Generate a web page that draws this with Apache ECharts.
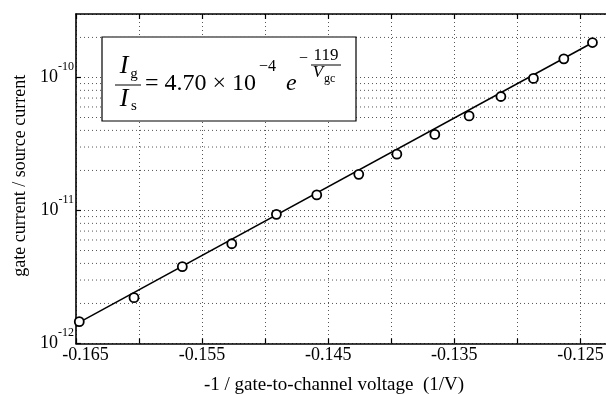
<!DOCTYPE html>
<html>
<head>
<meta charset="utf-8">
<script src="https://cdn.jsdelivr.net/npm/echarts@6/dist/echarts.min.js"></script>
<style>
html,body{margin:0;padding:0;background:#fff;}
#chart{width:606px;height:394px;}
</style>
</head>
<body>
<div id="chart"></div>
<script>
// ---- data ----
var xValues = [-0.16474, -0.16040, -0.15657, -0.15265, -0.14911, -0.14591, -0.14258, -0.13956, -0.13655, -0.13383, -0.13131, -0.12873, -0.12632, -0.12405];
var yValues = [1.46e-12, 2.21e-12, 3.78e-12, 5.62e-12, 9.35e-12, 1.31e-11, 1.87e-11, 2.65e-11, 3.73e-11, 5.14e-11, 7.19e-11, 9.84e-11, 1.38e-10, 1.83e-10];
var fitX = [-0.165, -0.1238];
var fitY = [1.40e-12, 1.88e-10];
var xTickLabels = ['-0.165', '-0.155', '-0.145', '-0.135', '-0.125'];
var yDecades = [1e-12, 1e-11, 1e-10];
var yMinorGrid = [2e-12,3e-12,4e-12,5e-12,6e-12,7e-12,8e-12,9e-12,
                  2e-11,3e-11,4e-11,5e-11,6e-11,7e-11,8e-11,9e-11,
                  2e-10];
var xRange = [-0.165, -0.1225];

var FONT = 'Liberation Serif';
var chart = echarts.init(document.getElementById('chart'), null, {renderer: 'canvas'});

var scatterData = xValues.map(function (x, i) { return [x, yValues[i]]; });
var fitData = fitX.map(function (x, i) { return [x, fitY[i]]; });

function xLabel(v) {
  var s = v.toFixed(3);
  if (xTickLabels.indexOf(s) < 0) return '';
  if (s === xTickLabels[0]) return '{first|' + s + '}';
  return s;
}
function yLabel(v) {
  var e = Math.log10(v);
  var r = Math.round(e);
  if (Math.abs(e - r) > 1e-6) return '';
  return '{b|10}{s|' + r + '}';
}

var gridColor = '#555';
var minorSeries = yMinorGrid.map(function (v) {
  return {
    type: 'line', data: [[xRange[0], v], [xRange[1], v]],
    showSymbol: false, symbol: 'none', silent: true, z: 1,
    lineStyle: {color: gridColor, type: [1, 3], width: 1}
  };
});

var option = {
  animation: false,
  backgroundColor: '#fff',
  grid: {left: 76, top: 14, width: 536, height: 329.5, containLabel: false, outerBoundsMode: 'none'},
  xAxis: [{
    type: 'value', min: xRange[0], max: xRange[1], interval: 0.005,
    position: 'bottom',
    axisLine: {show: true, onZero: false, lineStyle: {color: '#000', width: 1.6}},
    axisTick: {show: true, inside: true, length: 5, lineStyle: {color: '#000', width: 1.2}},
    splitLine: {show: true, lineStyle: {color: gridColor, type: [1, 3], width: 1}},
    axisLabel: {
      show: true, formatter: xLabel, margin: 3, showMaxLabel: false,
      color: '#000', fontFamily: FONT, fontSize: 18,
      rich: {first: {fontFamily: FONT, fontSize: 18, color: '#000', padding: [0, 0, 0, 19]}}
    },
    name: '-1 / gate-to-channel voltage  (1/V)',
    nameLocation: 'middle', nameGap: 32,
    nameTextStyle: {color: '#000', fontFamily: FONT, fontSize: 19, padding: [0, 20, 0, 0]}
  }, {
    type: 'value', min: xRange[0], max: xRange[1], interval: 0.005,
    position: 'top',
    axisLine: {show: true, onZero: false, lineStyle: {color: '#000', width: 1.6}},
    axisTick: {show: true, inside: true, length: 5, lineStyle: {color: '#000', width: 1.2}},
    splitLine: {show: false},
    axisLabel: {show: false}
  }],
  yAxis: {
    type: 'log', logBase: 10, min: 1e-12, max: 3e-10,
    axisLine: {show: true, onZero: false, lineStyle: {color: '#000', width: 1.6}},
    axisTick: {show: true, inside: true, length: 5, lineStyle: {color: '#000', width: 1.2}},
    splitLine: {show: true, lineStyle: {color: gridColor, type: [1, 3], width: 1}},
    axisLabel: {
      show: true, formatter: yLabel, margin: 2, showMaxLabel: false,
      color: '#000', fontFamily: FONT,
      rich: {
        b: {fontFamily: FONT, fontSize: 18, color: '#000', lineHeight: 34, verticalAlign: 'middle'},
        s: {fontFamily: FONT, fontSize: 12, color: '#000', lineHeight: 12, verticalAlign: 'top'}
      }
    },
    name: 'gate current / source current',
    nameLocation: 'middle', nameGap: 34,
    nameTextStyle: {color: '#000', fontFamily: FONT, fontSize: 18, padding: [0, 0, 0, 6]}
  },
  series: minorSeries.concat([{
    type: 'line', data: fitData, xAxisIndex: 0, showSymbol: false, symbol: 'none',
    lineStyle: {color: '#000', width: 1.5}, z: 3, silent: true
  }, {
    type: 'scatter', data: scatterData, xAxisIndex: 0,
    symbol: 'circle', symbolSize: 9,
    itemStyle: {color: '#fff', borderColor: '#000', borderWidth: 1.8, opacity: 1},
    z: 4, silent: true
  }]),
  graphic: [
    {type: 'rect', z: 100, shape: {x: 102, y: 37, width: 254, height: 84},
     style: {fill: '#fff', stroke: '#000', lineWidth: 1.2}},
    {type: 'text', z: 101, x: 124, y: 66, style: {text: 'I', font: 'italic 26px ' + FONT, fill: '#000', align: 'center', verticalAlign: 'middle'}},
    {type: 'text', z: 101, x: 134, y: 74, style: {text: 'g', font: '15px ' + FONT, fill: '#000', align: 'center', verticalAlign: 'middle'}},
    {type: 'line', z: 101, shape: {x1: 115, y1: 85, x2: 141, y2: 85}, style: {stroke: '#000', lineWidth: 1}},
    {type: 'text', z: 101, x: 124, y: 99, style: {text: 'I', font: 'italic 26px ' + FONT, fill: '#000', align: 'center', verticalAlign: 'middle'}},
    {type: 'text', z: 101, x: 134, y: 106, style: {text: 's', font: '15px ' + FONT, fill: '#000', align: 'center', verticalAlign: 'middle'}},
    {type: 'text', z: 101, x: 145, y: 84, style: {text: '= 4.70 \u00d7 10', font: '24px ' + FONT, fill: '#000', align: 'left', verticalAlign: 'middle'}},
    {type: 'text', z: 101, x: 259, y: 67, style: {text: '\u22124', font: '16px ' + FONT, fill: '#000', align: 'left', verticalAlign: 'middle'}},
    {type: 'text', z: 101, x: 286, y: 84, style: {text: 'e', font: 'italic 24px ' + FONT, fill: '#000', align: 'left', verticalAlign: 'middle'}},
    {type: 'text', z: 101, x: 299, y: 59, style: {text: '\u2212', font: '16px ' + FONT, fill: '#000', align: 'left', verticalAlign: 'middle'}},
    {type: 'text', z: 101, x: 326, y: 56, style: {text: '119', font: '17px ' + FONT, fill: '#000', align: 'center', verticalAlign: 'middle'}},
    {type: 'line', z: 101, shape: {x1: 311, y1: 65, x2: 341, y2: 65}, style: {stroke: '#000', lineWidth: 1}},
    {type: 'text', z: 101, x: 318, y: 73, style: {text: 'V', font: 'italic 17px ' + FONT, fill: '#000', align: 'center', verticalAlign: 'middle'}},
    {type: 'text', z: 101, x: 324, y: 79, style: {text: 'gc', font: '12px ' + FONT, fill: '#000', align: 'left', verticalAlign: 'middle'}}
  ]
};
chart.setOption(option);
</script>
</body>
</html>
